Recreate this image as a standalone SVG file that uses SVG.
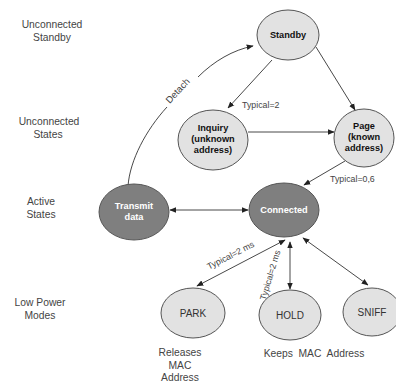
<svg xmlns="http://www.w3.org/2000/svg" width="396" height="383" viewBox="0 0 396 383">
<style>
.lbl{font-family:"Liberation Sans",Arial,sans-serif;font-size:10.3px;fill:#444;text-anchor:middle}
.lite{fill:#e2e2e2;stroke:#555;stroke-width:1}
.dark{fill:#7f7f7f;stroke:#555;stroke-width:1}
.nb{font-family:"Liberation Sans",Arial,sans-serif;font-size:9.2px;font-weight:bold;fill:#111;text-anchor:middle}
.nw{font-family:"Liberation Sans",Arial,sans-serif;font-size:9.2px;font-weight:bold;fill:#fff;text-anchor:middle}
.nn{font-family:"Liberation Sans",Arial,sans-serif;font-size:10px;fill:#333;text-anchor:middle}
.edge{fill:none;stroke:#333;stroke-width:0.9}
.el{font-family:"Liberation Sans",Arial,sans-serif;font-size:8.8px;fill:#444}
</style>
<defs>
<marker id="ah" viewBox="0 0 10 10" refX="9" refY="5" markerWidth="7" markerHeight="7" orient="auto-start-reverse" markerUnits="userSpaceOnUse">
<path d="M0,1 L10,5 L0,9 z" fill="#222"/>
</marker>
</defs>
<rect width="396" height="383" fill="#fff"/>
<g id="row-labels">
<text class="lbl" x="52" y="28">Unconnected</text>
<text class="lbl" x="52" y="41">Standby</text>
<text class="lbl" x="49" y="125">Unconnected</text>
<text class="lbl" x="48" y="138">States</text>
<text class="lbl" x="41" y="205">Active</text>
<text class="lbl" x="41" y="218">States</text>
<text class="lbl" x="40" y="306">Low Power</text>
<text class="lbl" x="40" y="319">Modes</text>
<text class="lbl" x="180" y="356">Releases</text>
<text class="lbl" x="180" y="369">MAC</text>
<text class="lbl" x="180" y="381">Address</text>
<text class="lbl" x="314" y="357" xml:space="preserve">Keeps  MAC  Address</text>
</g>
<g id="connectors">
<line class="edge" x1="272" y1="60" x2="228" y2="108" marker-end="url(#ah)"/>
<text class="el" x="242" y="108">Typical=2</text>
<line class="edge" x1="316" y1="47" x2="355" y2="110" marker-end="url(#ah)"/>
<line class="edge" x1="248" y1="132" x2="334" y2="132" marker-end="url(#ah)"/>
<line class="edge" x1="345" y1="161" x2="304" y2="185" marker-end="url(#ah)"/>
<text class="el" x="330" y="182">Typical=0,6</text>
<line class="edge" x1="170" y1="210" x2="248" y2="210" marker-start="url(#ah)" marker-end="url(#ah)"/>
<path class="edge" d="M128,186 C130,160 146,130 167,107"/>
<path class="edge" d="M198,77 C214,61 233,50 253,46" marker-end="url(#ah)"/>
<text class="el" x="0" y="0" text-anchor="middle" transform="translate(180,93) rotate(-47)" style="font-size:9.5px">Detach</text>
<line class="edge" x1="197" y1="286" x2="285" y2="240" marker-start="url(#ah)" marker-end="url(#ah)"/>
<text class="el" x="0" y="0" text-anchor="middle" transform="translate(232,258) rotate(-27)">Typical=2 ms</text>
<line class="edge" x1="290" y1="242" x2="290" y2="289" marker-start="url(#ah)" marker-end="url(#ah)"/>
<text class="el" x="0" y="0" text-anchor="middle" transform="translate(273,276) rotate(-73)">Typical=2 ms</text>
<line class="edge" x1="303" y1="238" x2="368" y2="285" marker-start="url(#ah)" marker-end="url(#ah)"/>
</g>
<g id="standby">
<ellipse class="lite" cx="288" cy="35" rx="31" ry="25"/>
<text class="nb" x="288" y="38">Standby</text>
</g>
<g id="inquiry">
<ellipse class="lite" cx="213" cy="140" rx="35" ry="30"/>
<text class="nb" x="213" y="131">Inquiry</text>
<text class="nb" x="213" y="142">(unknown</text>
<text class="nb" x="213" y="153">address)</text>
</g>
<g id="page">
<ellipse class="lite" cx="364" cy="138" rx="30" ry="29"/>
<text class="nb" x="364" y="129">Page</text>
<text class="nb" x="364" y="140">(known</text>
<text class="nb" x="364" y="151">address)</text>
</g>
<g id="transmit">
<ellipse class="dark" cx="134" cy="212" rx="35" ry="28"/>
<text class="nw" x="134" y="209">Transmit</text>
<text class="nw" x="134" y="220">data</text>
</g>
<g id="connected">
<ellipse class="dark" cx="284" cy="210" rx="35" ry="27"/>
<text class="nw" x="284" y="213">Connected</text>
</g>
<g id="park">
<ellipse class="lite" cx="193" cy="313" rx="32" ry="25"/>
<text class="nn" x="193" y="317">PARK</text>
</g>
<g id="hold">
<ellipse class="lite" cx="290" cy="315" rx="31" ry="25"/>
<text class="nn" x="290" y="319">HOLD</text>
</g>
<g id="sniff">
<ellipse class="lite" cx="372" cy="312" rx="29" ry="24"/>
<text class="nn" x="372" y="316">SNIFF</text>
</g>
</svg>
